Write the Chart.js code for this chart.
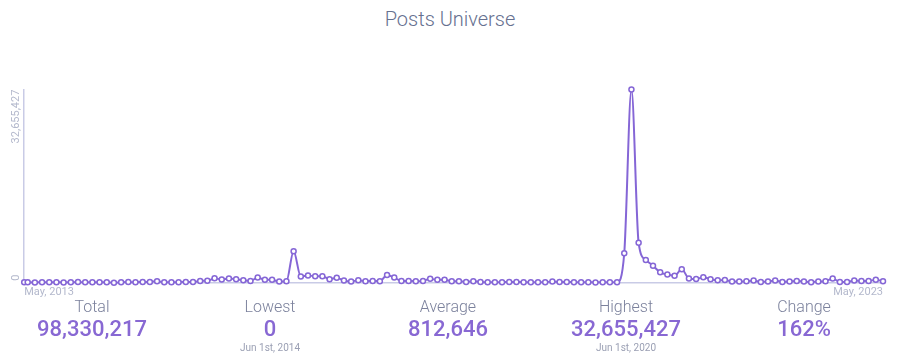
<!DOCTYPE html>
<html>
<head>
<meta charset="utf-8">
<title>Posts Universe</title>
<script src="https://cdn.jsdelivr.net/npm/chart.js@4.4.0/dist/chart.umd.min.js"></script>
<style>
  body { margin: 0; width: 900px; height: 358px; background: #fff; font-family: Roboto, sans-serif; overflow: hidden; position: relative; }
  #title { position: absolute; top: 7px; left: 0; width: 900px; text-align: center; font-size: 20px; line-height: 24px; font-weight: 300; color: #66708f; }
  #chartBox { position: absolute; left: -7px; top: 75px; width: 907px; height: 228px; }
  #stats { position: absolute; top: 297px; left: 3px; width: 890px; display: flex; }
  .stat { flex: 1; text-align: center; }
  .stat .label { font-size: 16px; font-weight: 300; color: #7b819c; line-height: 20px; }
  .stat .value { font-size: 22px; font-weight: 500; color: #8868d3; line-height: 24px; }
  .stat .note { font-size: 10px; color: #9a9fb3; line-height: 14px; height: 14px; }
</style>
</head>
<body>
<div id="title">Posts Universe</div>
<div id="chartBox"><canvas id="postsChart"></canvas></div>
<div id="stats"></div>

<script>
// first point is a partial month, the rest fall on the 1st of each month
const firstDate = "2013-05-17";
const monthCount = 120; // Jun 2013 .. May 2023

const posts = [
  107300,
  85000, 70000, 95000, 80000, 105000, 70000, 90000, 115000, 80000, 100000, 85000, 110000,
  0, 90000, 115000, 100000, 135000,
  155000, 265000, 85000, 80000, 105000, 150000, 115000, 325000, 335000, 775000,
  545000, 715000, 605000, 435000, 325000, 885000, 495000, 495000, 215000, 265000,
  5350000,
  1055000, 1225000, 1115000, 1115000, 605000, 835000, 385000, 215000, 435000, 265000, 325000, 265000,
  1335000, 885000, 325000, 325000, 265000, 325000, 665000, 495000, 495000, 265000, 265000,
  155000, 265000, 155000, 105000, 105000, 75000, 155000, 155000, 105000, 85000, 80000,
  105000, 215000, 155000, 155000, 85000, 75000, 80000, 70000, 85000, 75000, 95000,
  5000000, 32655427, 6750000, 3850000, 2900000, 1765000, 1395000, 1175000, 2300000,
  725000, 635000, 945000, 605000, 435000, 465000, 215000, 215000, 265000, 385000,
  155000, 215000, 385000, 155000, 215000, 325000, 215000, 105000, 215000, 265000,
  715000, 155000, 155000, 385000, 325000, 325000, 495000, 281000
];

const xTickLabels = ["May, 2013", "May, 2023"];
const yTickValues = [0, 32655427];

const statLabels = ["Total", "Lowest", "Average", "Highest", "Change"];
const statValues = ["98,330,217", "0", "812,646", "32,655,427", "162%"];
const statNotes = ["", "Jun 1st, 2014", "", "Jun 1st, 2020", ""];

// month position: 0 = Jun 1st 2013
const d0 = new Date(firstDate + "T00:00:00");
const monthPos = [(d0.getFullYear() - 2013) * 12 + d0.getMonth() - 5 + (d0.getDate() - 1) / 31];
for (let i = 0; i < monthCount; i++) monthPos.push(i);

const purple = "#8566d6";
const axisColor = "#c9cbe6";
const tickColor = "#b3b8cc";
const tickFont = { family: "Roboto", size: 11 };

const statsDiv = document.getElementById("stats");
statLabels.forEach((lab, i) => {
  const el = document.createElement("div");
  el.className = "stat";
  el.innerHTML = '<div class="label">' + lab + '</div><div class="value">' + statValues[i] +
    '</div><div class="note">' + statNotes[i] + '</div>';
  statsDiv.appendChild(el);
});

// the bottom y label sits above its tick, reading upwards
const zeroLabel = {
  id: "zeroLabel",
  afterDraw(chart) {
    const y = chart.scales.y;
    const c = chart.ctx;
    c.save();
    c.translate(y.right - y.options.ticks.padding, y.getPixelForValue(yTickValues[0]) - 2);
    c.rotate(-Math.PI / 2);
    c.font = tickFont.size + "px " + tickFont.family;
    c.fillStyle = tickColor;
    c.textAlign = "left";
    c.textBaseline = "middle";
    c.fillText(yTickValues[0].toLocaleString("en-US"), 0, 0);
    c.restore();
  }
};

const ctx = document.getElementById("postsChart").getContext("2d");
new Chart(ctx, {
  type: "line",
  data: {
    datasets: [{
      label: "Posts",
      data: posts.map((v, i) => ({ x: monthPos[i], y: v })),
      borderColor: purple,
      borderWidth: 2,
      pointRadius: 2.5,
      pointBorderWidth: 1.5,
      pointBackgroundColor: "#fff",
      pointBorderColor: purple,
      cubicInterpolationMode: "monotone",
      fill: false,
      clip: false
    }]
  },
  plugins: [zeroLabel],
  options: {
    responsive: true,
    maintainAspectRatio: false,
    animation: false,
    layout: { padding: { top: 9, left: 2, right: 17, bottom: 1 } },
    plugins: { legend: { display: false }, tooltip: { enabled: false } },
    scales: {
      x: {
        type: "linear",
        min: monthPos[0],
        max: monthPos[monthPos.length - 1],
        grid: { display: false, drawTicks: false },
        border: { display: true, color: axisColor, width: 1.5 },
        afterBuildTicks: (scale) => { scale.ticks = [{ value: scale.min }, { value: scale.max }]; },
        ticks: {
          align: "inner",
          padding: 3,
          color: tickColor,
          font: tickFont,
          maxRotation: 0,
          callback: (v, i) => xTickLabels[i]
        }
      },
      y: {
        min: yTickValues[0],
        max: yTickValues[1],
        grid: { display: false, drawTicks: false },
        border: { display: true, color: axisColor, width: 1.5 },
        afterBuildTicks: (scale) => { scale.ticks = yTickValues.map(v => ({ value: v })); },
        ticks: {
          minRotation: 90,
          maxRotation: 90,
          padding: 8,
          color: (c) => (c.tick && c.tick.value === yTickValues[0]) ? "rgba(0,0,0,0)" : tickColor,
          font: tickFont,
          callback: (v) => v.toLocaleString("en-US")
        }
      }
    }
  }
});
</script>
</body>
</html>
